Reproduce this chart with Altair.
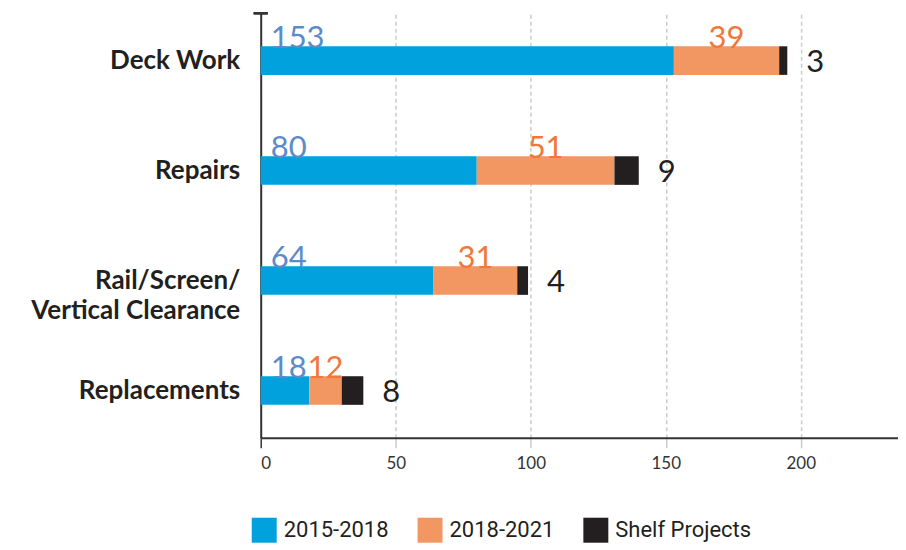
import altair as alt
import pandas as pd

categories = ["Deck Work", "Repairs", "Rail/Screen/|Vertical Clearance", "Replacements"]
series = ["2015-2018", "2018-2021", "Shelf Projects"]
v_2015_2018 = [153, 80, 64, 18]
v_2018_2021 = [39, 51, 31, 12]
v_shelf = [3, 9, 4, 8]
x_ticks = [0, 50, 100, 150, 200]
bar_colors = ["#00a1dc", "#f29662", "#231f20"]
label_colors = ["#5b8bc8", "#f07838", "#231f20"]

rows = []
for i, c in enumerate(categories):
    vals = [v_2015_2018[i], v_2018_2021[i], v_shelf[i]]
    for j, s in enumerate(series):
        rows.append({"category": c, "series": s, "order": j, "value": vals[j]})
df = pd.DataFrame(rows)

lab = pd.DataFrame({"category": categories, "v1": v_2015_2018, "v2": v_2018_2021, "v3": v_shelf})
lab["mid2"] = lab["v1"] + lab["v2"] / 2
lab["total"] = lab["v1"] + lab["v2"] + lab["v3"]
lab["zero"] = 0

FONT = "Lato"

y_enc = alt.Y(
    "category:N",
    sort=categories,
    scale=alt.Scale(paddingInner=0.74, paddingOuter=0.3),
    axis=alt.Axis(
        title=None,
        labelExpr="split(datum.label, '|')",
        labelFont=FONT,
        labelFontWeight="bold",
        labelFontSize=26,
        labelLineHeight=31,
        labelColor="#231f20",
        labelPadding=21,
        labelLimit=400,
        ticks=False,
        domainColor="#333333",
        domainWidth=2,
        grid=False,
    ),
)

x_scale = alt.Scale(domain=[0, 236], nice=False, zero=True)

bars = alt.Chart(df).mark_bar().encode(
    x=alt.X(
        "value:Q",
        stack="zero",
        scale=x_scale,
        axis=alt.Axis(
            title=None,
            values=x_ticks,
            labelFont=FONT,
            labelFontSize=17,
            labelColor="#333333",
            labelPadding=8,
            tickSize=10,
            tickColor={"condition": {"test": "datum.value == 0", "value": "#333333"}, "value": "#cccccc"},
            tickWidth=1.5,
            domainColor="#333333",
            domainWidth=2,
            grid=True,
            gridColor="#cccccc",
            gridDash=[4, 3],
            gridWidth=1.5,
        ),
    ),
    y=y_enc,
    color=alt.Color(
        "series:N",
        sort=series,
        scale=alt.Scale(domain=series, range=bar_colors),
        legend=alt.Legend(
            title=None,
            orient="none",
            legendX=-9,
            legendY=505,
            direction="horizontal",
            symbolType="square",
            symbolSize=625,
            symbolStrokeWidth=0,
            symbolOpacity=1,
            labelFont="Roboto",
            labelFontSize=22,
            labelColor="#231f20",
            labelOffset=7,
            columnPadding=29,
        ),
    ),
    order=alt.Order("order:Q"),
)

cap = alt.Chart(lab).mark_rule(color="#333333", strokeWidth=2).encode(
    x=alt.value(-7), x2=alt.value(7), y=alt.value(0)
)

t1 = alt.Chart(lab).mark_text(
    align="left", baseline="alphabetic", dx=10, dy=-13, font=FONT, fontSize=31, color=label_colors[0]
).encode(x=alt.X("zero:Q", scale=x_scale), y=alt.Y("category:N", sort=categories), text="v1:Q")

t2 = alt.Chart(lab).mark_text(
    align="center", baseline="alphabetic", dy=-13, font=FONT, fontSize=31, color=label_colors[1]
).encode(x=alt.X("mid2:Q", scale=x_scale), y=alt.Y("category:N", sort=categories), text="v2:Q")

t3 = alt.Chart(lab).mark_text(
    align="left", baseline="middle", dx=19, dy=2, font=FONT, fontSize=31, color=label_colors[2]
).encode(x=alt.X("total:Q", scale=x_scale), y=alt.Y("category:N", sort=categories), text="v3:Q")

chart = (
    alt.layer(bars, cap, t1, t2, t3)
    .properties(width=638, height=425, padding={"left": 22, "top": 4, "right": 0, "bottom": 0})
    .configure_view(stroke=None)
)

chart.save("out.html", embed_options={"renderer": "svg", "actions": False})
